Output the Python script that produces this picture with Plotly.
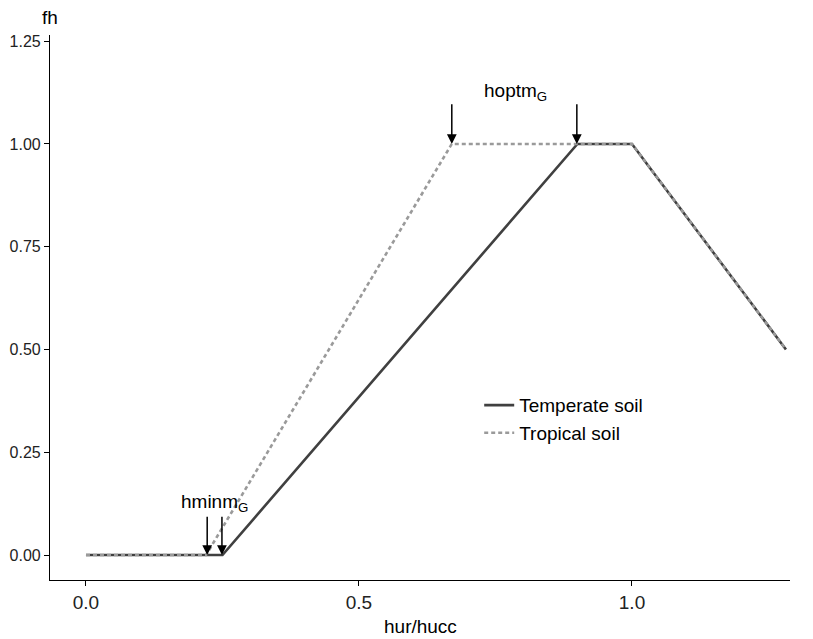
import plotly.graph_objects as go

# Moisture response curves
temperate_x = [0.0, 0.25, 0.9, 1.0, 1.282]
temperate_y = [0.0, 0.0, 1.0, 1.0, 0.5]
tropical_x = [0.0, 0.22, 0.67, 1.0, 1.282]
tropical_y = [0.0, 0.0, 1.0, 1.0, 0.5]

# arrow targets
hmin_x = [0.222, 0.249]
hopt_x = [0.67, 0.899]

x_ticks = [0.0, 0.5, 1.0]
x_labels = ["0.0", "0.5", "1.0"]
y_ticks = [0.0, 0.25, 0.5, 0.75, 1.0, 1.25]
y_labels = ["0.00", "0.25", "0.50", "0.75", "1.00", "1.25"]

FONT = "Liberation Sans, Arial, Helvetica, sans-serif"

fig = go.Figure()
fig.add_trace(go.Scatter(x=temperate_x, y=temperate_y, mode="lines", name="Temperate soil",
                         line=dict(color="#404040", width=2.6)))
fig.add_trace(go.Scatter(x=tropical_x, y=tropical_y, mode="lines", name="Tropical soil",
                         line=dict(color="#9a9a9a", width=2.6, dash="4px,3px")))

for xv in hmin_x:
    fig.add_annotation(x=xv, y=0.0, ax=xv, ay=0.097, xref="x", yref="y", axref="x", ayref="y",
                       text="", showarrow=True, arrowhead=2, arrowsize=1.3, arrowwidth=1.5,
                       arrowcolor="black")
for xv in hopt_x:
    fig.add_annotation(x=xv, y=1.0, ax=xv, ay=1.10, xref="x", yref="y", axref="x", ayref="y",
                       text="", showarrow=True, arrowhead=2, arrowsize=1.3, arrowwidth=1.5,
                       arrowcolor="black")

fig.add_annotation(x=0.236, y=0.127, text="hminm<sub>G</sub>", showarrow=False,
                   font=dict(size=19, color="black"))
fig.add_annotation(x=0.786, y=1.127, text="hoptm<sub>G</sub>", showarrow=False,
                   font=dict(size=19, color="black"))

# axis titles
fig.add_annotation(x=0.5, y=-0.086, xref="paper", yref="paper", text="hur/hucc",
                   xanchor="center", yanchor="middle",
                   showarrow=False, font=dict(size=19, color="black"))
fig.add_annotation(x=0.0, y=1.033, xref="paper", yref="paper", text="fh",
                   xanchor="center", yanchor="middle",
                   showarrow=False, font=dict(size=19, color="black"))

# page body adds 8px offset, so the figure is a bit smaller
fig.update_layout(
    width=805, height=631,
    margin=dict(l=42, r=23, t=27, b=59),
    plot_bgcolor="white", paper_bgcolor="white",
    font=dict(family=FONT, size=16, color="black"),
    showlegend=True,
    legend=dict(x=0.58, y=0.295, xref="paper", yref="paper", xanchor="left", yanchor="middle",
                bgcolor="rgba(0,0,0,0)", font=dict(size=19, color="black"),
                itemwidth=30, tracegroupgap=2),
    xaxis=dict(range=[-0.0659, 1.2894], tickvals=x_ticks, ticktext=x_labels, automargin=False,
               showgrid=False, zeroline=False, showline=True, linecolor="black", linewidth=1.2,
               ticks="outside", ticklen=5, tickcolor="black", tickfont=dict(size=19, color="#222")),
    yaxis=dict(range=[-0.0608, 1.265], tickvals=y_ticks, ticktext=y_labels, automargin=False,
               showgrid=False, zeroline=False, showline=True, linecolor="black", linewidth=1.2,
               ticks="outside", ticklen=5, tickcolor="black", tickfont=dict(size=16, color="#222")),
)

fig.write_html("out.html")
